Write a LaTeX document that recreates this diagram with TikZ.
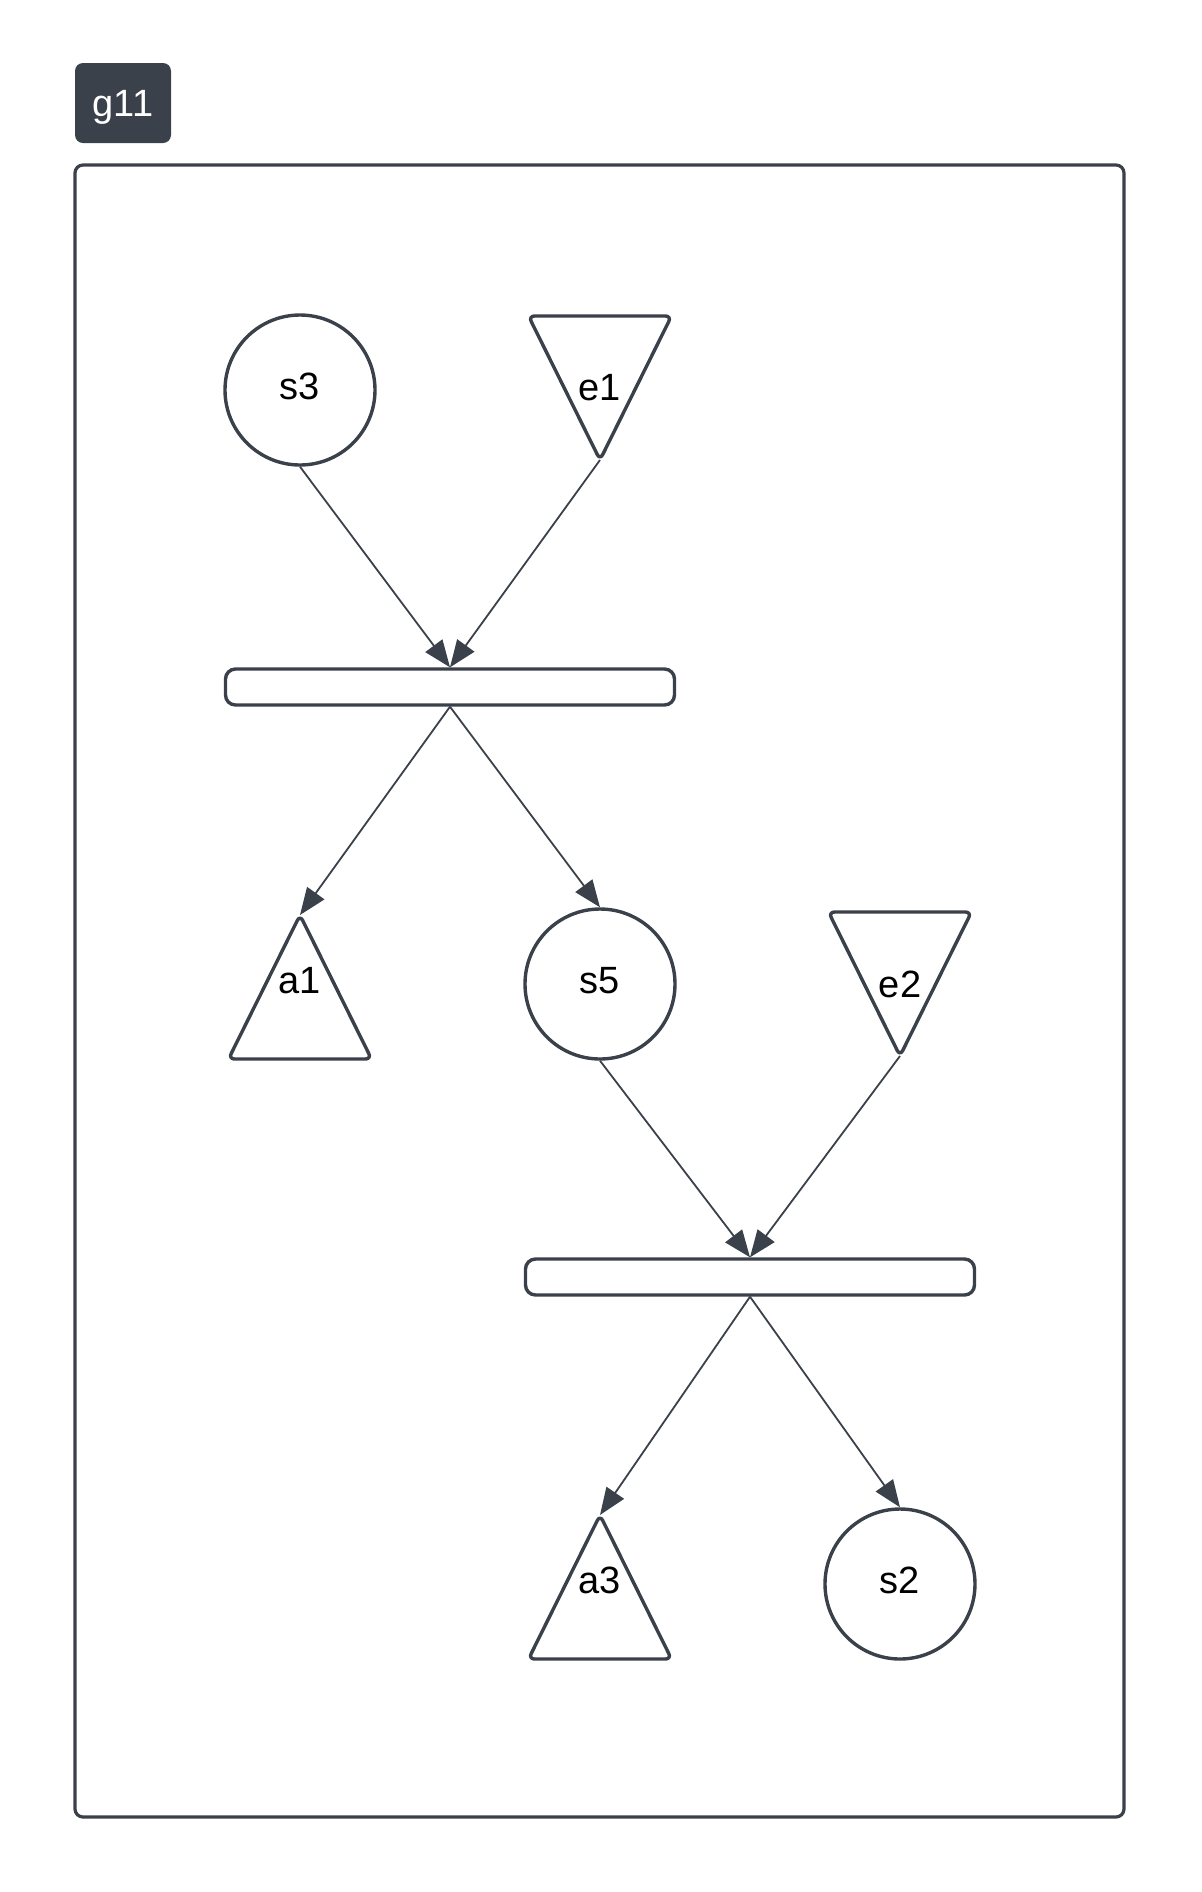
\documentclass[tikz,border=0pt]{standalone}
\usepackage{fontspec}
\setmainfont{Liberation Sans}
\usetikzlibrary{arrows.meta}
\definecolor{ink}{HTML}{3A414A}
\tikzset{
  group/.style={draw=ink, line width=1.6pt, rounded corners=4pt, minimum width=524.5pt, minimum height=826pt, inner sep=0pt},
  tag/.style={fill=ink, text=white, rounded corners=4pt, minimum width=48pt, minimum height=40pt, inner sep=0pt, text depth=0pt, font=\fontsize{19}{22}\selectfont},
  place/.style={circle, draw=ink, line width=1.7pt, minimum size=75pt, inner sep=0pt, text depth=4pt, font=\fontsize{19}{22}\selectfont},
  tri/.style={minimum width=71.5pt, minimum height=72pt, inner sep=0pt, outer sep=0pt, font=\fontsize{19}{22}\selectfont},
  triup/.style={tri, text depth=7pt},
  triline/.style={draw=ink, line width=1.7pt, line join=round, rounded corners=3pt},
  bar/.style={draw=ink, line width=1.7pt, rounded corners=5pt, minimum width=224.5pt, minimum height=18pt, inner sep=0pt},
  flow/.style={draw=ink, line width=0.9pt, -{Triangle[length=13.5pt,width=10.5pt]}}
}
\begin{document}
\begin{tikzpicture}[x=0.5pt,y=-0.5pt]
\useasboundingbox (0,0) rectangle (1202,1892);
\node[group] (frame) at (599.5,991) {};
\node[tag] (g11) at (123,103) {g11};
\node[place] (s3) at (300,390) {s3};
\node[tri] (e1) at (600,388) {e1};
\node[bar] (bar1) at (450,687) {};
\node[triup] (a1) at (300,987) {a1};
\node[place] (s5) at (600,984) {s5};
\node[tri] (e2) at (900,984) {e2};
\node[bar] (bar2) at (750,1277) {};
\node[triup] (a3) at (600,1587) {a3};
\node[place] (s2) at (900,1584) {s2};
\foreach \n in {e1,e2}
  \draw[triline] (\n.north) -- (\n.north east) -- (\n.south) -- (\n.north west) -- cycle;
\foreach \n in {a1,a3}
  \draw[triline] (\n.south) -- (\n.south east) -- (\n.north) -- (\n.south west) -- cycle;
\draw[flow] (s3.south) -- (bar1.north);
\draw[flow] (e1.south) -- (bar1.north);
\draw[flow] (bar1.south) -- (a1.north);
\draw[flow] (bar1.south) -- (s5.north);
\draw[flow] (s5.south) -- (bar2.north);
\draw[flow] (e2.south) -- (bar2.north);
\draw[flow] (bar2.south) -- (a3.north);
\draw[flow] (bar2.south) -- (s2.north);
\end{tikzpicture}
\end{document}
